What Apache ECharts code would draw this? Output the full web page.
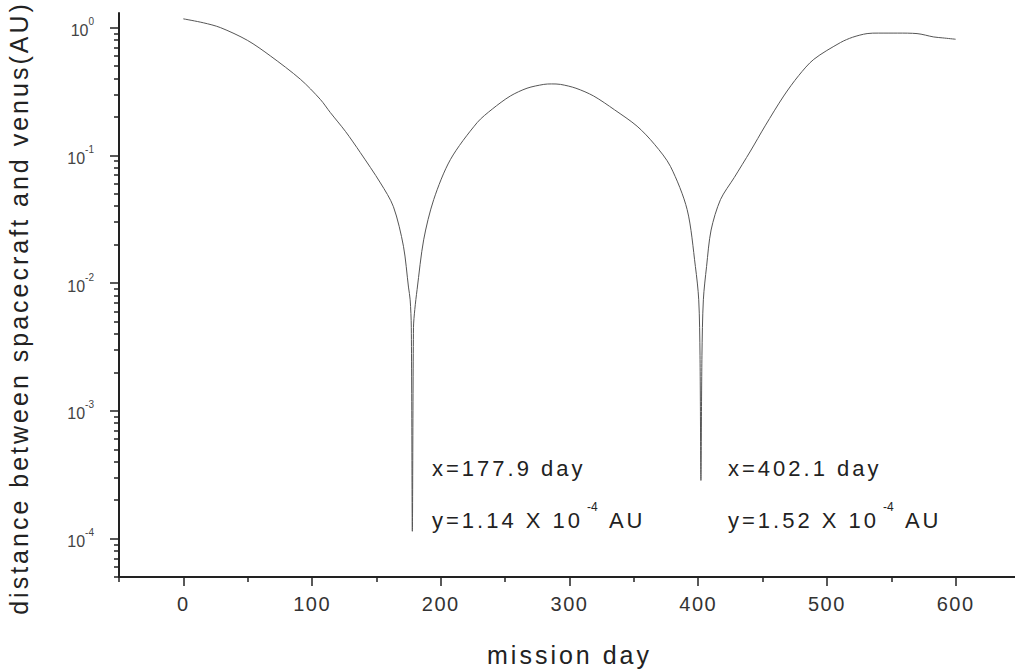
<!DOCTYPE html>
<html>
<head>
<meta charset="utf-8">
<title>distance between spacecraft and venus</title>
<script src="https://cdn.jsdelivr.net/npm/echarts@6/dist/echarts.min.js"></script>
<style>
html, body { margin: 0; padding: 0; background: #fff; }
#main { width: 1015px; height: 671px; }
/* the original figure has loosely spaced lettering */
#main text[style*="25px"], #main text[style*="22px"] { letter-spacing: 3px; }
#main text[style*="20px"] { letter-spacing: 1.5px; }
</style>
</head>
<body>
<div id="main"></div>
<script>
// mission day
var days = [0, 15.5, 28.7, 49.7, 67.6, 90.9, 106.4, 114.2, 125.9, 137.5, 153.1, 163.2, 171, 174.9, 176.2, 177.1,
    177.9, 178.8, 179.8, 181.6, 186.7, 194.5, 207.5, 228.2, 240, 254, 267, 280, 286, 293, 305, 318.8, 335,
    352.5, 366, 378.4, 391.4, 397.8, 400.4, 401.4, 402.1, 402.9, 404, 406.5, 410, 417.3, 428,
    440.6, 452, 466.4, 478, 489.8, 510.5, 520, 531.2, 540, 555, 570, 583, 590, 600];
// distance between spacecraft and venus (AU)
var dist = [1.17, 1.09, 1.0, 0.795, 0.6, 0.394, 0.274, 0.216, 0.154, 0.105, 0.0608, 0.0396, 0.0194, 0.0093, 0.0074, 0.0045,
    1.14e-4, 0.0045, 0.0062, 0.0089, 0.0218, 0.045, 0.0927, 0.18, 0.23, 0.291, 0.335, 0.359, 0.362, 0.359, 0.335, 0.291, 0.227,
    0.169, 0.122, 0.082, 0.0376, 0.0135, 0.0074, 0.0027, 2.85e-4, 0.0027, 0.0074, 0.0135, 0.026, 0.045, 0.067,
    0.108, 0.17, 0.291, 0.42, 0.564, 0.763, 0.84, 0.897, 0.905, 0.905, 0.897, 0.844, 0.83, 0.81];

var xMajor = [0, 100, 200, 300, 400, 500, 600];
var xMinor = [-50, 50, 150, 250, 350, 450, 550, 650];
var yMajor = [1e-4, 1e-3, 1e-2, 1e-1, 1];
var yMinor = [5e-5, 6e-5, 7e-5, 8e-5, 9e-5,
    2e-4, 3e-4, 4e-4, 5e-4, 6e-4, 7e-4, 8e-4, 9e-4,
    2e-3, 3e-3, 4e-3, 5e-3, 6e-3, 7e-3, 8e-3, 9e-3,
    2e-2, 3e-2, 4e-2, 5e-2, 6e-2, 7e-2, 8e-2, 9e-2,
    0.2, 0.3, 0.4, 0.5, 0.6, 0.7, 0.8, 0.9];

var FONT = '"Liberation Sans", Arial, sans-serif';
var ink = '#222';
var tickStyle = { color: ink, width: 1.5 };

// svg renderer so the css letter-spacing above applies
var myChart = echarts.init(document.getElementById('main'), null, { renderer: 'svg' });

// annotation second line: "y=... X 10^-4 AU"
function minLabel(v) {
    return {
        text: '{a|y=' + v + ' X 10}{e|-4}{c| AU}',
        rich: {
            a: { fontSize: 22, fontFamily: FONT, fill: ink, width: 155, verticalAlign: 'bottom', lineHeight: 30 },
            e: { fontSize: 12, fontFamily: FONT, fill: ink, width: 14, verticalAlign: 'top', lineHeight: 14 },
            c: { fontSize: 22, fontFamily: FONT, fill: ink, verticalAlign: 'bottom', lineHeight: 30 }
        }
    };
}

var option = {
    animation: false,
    backgroundColor: '#fff',
    grid: { left: 119, right: -5, top: 13, bottom: 94, outerBoundsMode: 'none' },
    xAxis: [{
        type: 'value', min: -50, max: 650, position: 'bottom',
        axisLine: { onZero: false, lineStyle: { color: ink, width: 2 } },
        axisTick: { customValues: xMajor, length: 9, lineStyle: tickStyle },
        axisLabel: { customValues: xMajor, fontSize: 20, fontFamily: FONT, color: '#333', margin: 17 },
        splitLine: { show: false },
        name: 'mission day', nameLocation: 'middle', nameGap: 65,
        nameTextStyle: { fontSize: 25, fontFamily: FONT, color: ink }
    }, {
        // minor ticks
        type: 'value', min: -50, max: 650, position: 'bottom',
        axisLine: { show: false, onZero: false },
        axisTick: { customValues: xMinor, length: 5, lineStyle: tickStyle },
        axisLabel: { show: false },
        splitLine: { show: false }
    }],
    yAxis: [{
        type: 'log', logBase: 10, min: 5e-5, max: 1.3, position: 'left',
        axisLine: { onZero: false, lineStyle: { color: ink, width: 2 } },
        axisTick: { customValues: yMajor, length: 9, lineStyle: tickStyle },
        axisLabel: {
            customValues: yMajor, margin: 25,
            formatter: function (v) {
                return '{b|10}{e|' + Math.round(Math.log10(v)) + '}';
            },
            rich: {
                b: { fontSize: 16, fontFamily: FONT, color: '#444', verticalAlign: 'bottom', lineHeight: 22 },
                e: { fontSize: 10, fontFamily: FONT, color: '#444', verticalAlign: 'top', lineHeight: 12 }
            }
        },
        splitLine: { show: false },
        name: 'distance between spacecraft and venus(AU)', nameLocation: 'middle', nameGap: 88,
        nameTextStyle: { fontSize: 25, fontFamily: FONT, color: ink, padding: [0, 26, 0, 0] }
    }, {
        // minor ticks
        type: 'log', logBase: 10, min: 5e-5, max: 1.3, position: 'left',
        axisLine: { show: false, onZero: false },
        axisTick: { customValues: yMinor, length: 5, lineStyle: tickStyle },
        axisLabel: { show: false },
        splitLine: { show: false }
    }],
    series: [{
        type: 'line',
        data: days.map(function (d, i) { return [d, dist[i]]; }),
        showSymbol: false,
        smooth: 0.3,
        lineStyle: { color: '#555', width: 1 }
    }],
    graphic: [
        { type: 'text', left: 432, top: 457, style: { text: 'x=177.9 day', font: '22px ' + FONT, fill: ink } },
        { type: 'text', left: 432, top: 501, style: minLabel('1.14') },
        { type: 'text', left: 728, top: 457, style: { text: 'x=402.1 day', font: '22px ' + FONT, fill: ink } },
        { type: 'text', left: 728, top: 501, style: minLabel('1.52') }
    ]
};

myChart.setOption(option);
</script>
</body>
</html>
